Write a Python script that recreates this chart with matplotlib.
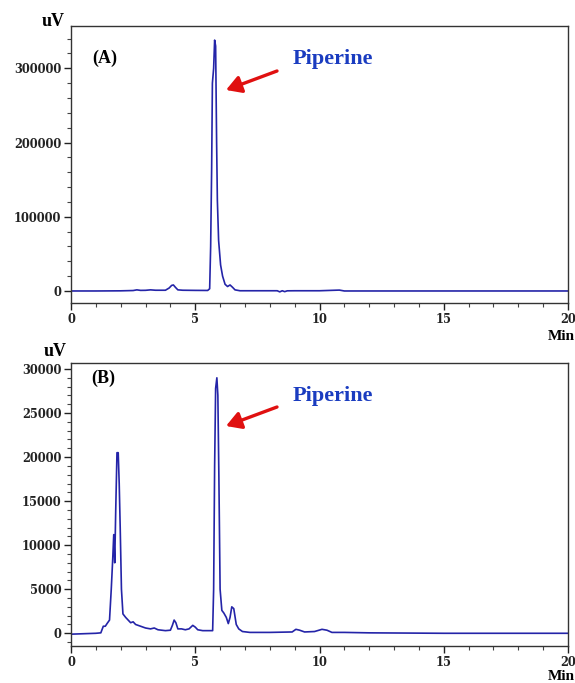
import matplotlib
matplotlib.use("Agg")
import matplotlib.pyplot as plt
from matplotlib.ticker import MultipleLocator

# ---- data ----
time_a = [0, 1.0, 2.0, 2.5, 2.65, 2.8, 3.0, 3.2, 3.4, 3.8, 3.95, 4.05, 4.12, 4.2, 4.3,
          4.5, 5.0, 5.5, 5.58, 5.62, 5.66, 5.69, 5.74, 5.78, 5.82, 5.86, 5.89, 5.94,
          6.02, 6.1, 6.2, 6.3, 6.4, 6.5, 6.6, 6.8, 7.5, 8.3, 8.4, 8.5, 8.6, 8.7, 9.0,
          10.0, 10.8, 11.0, 15.0, 20.0]
signal_a = [0, 0, 200, 600, 1500, 800, 900, 1500, 1000, 1000, 4000, 7500, 8100, 5000, 1500,
            1000, 800, 700, 3000, 60000, 165000, 280000, 300000, 338000, 330000, 200000,
            122000, 68000, 35000, 20000, 9000, 6000, 8100, 5000, 1500, 300, 300, 300, -1200,
            300, -900, 200, 300, 300, 1200, 0, 0, 0]

time_b = [0, 0.5, 1.0, 1.2, 1.3, 1.38, 1.45, 1.55, 1.62, 1.68, 1.72, 1.76, 1.8, 1.85, 1.9,
          1.94, 1.98, 2.03, 2.09, 2.2, 2.3, 2.4, 2.5, 2.6, 2.8, 3.0, 3.2, 3.35, 3.5, 3.8,
          4.0, 4.08, 4.15, 4.22, 4.3, 4.45, 4.6, 4.75, 4.9, 5.0, 5.1, 5.3, 5.7, 5.74,
          5.78, 5.82, 5.87, 5.91, 5.95, 6.0, 6.07, 6.15, 6.25, 6.33, 6.4, 6.47, 6.55,
          6.65, 6.75, 6.9, 7.2, 8.0, 8.9, 9.05, 9.2, 9.4, 9.8, 10.1, 10.3, 10.5, 11.0,
          12.0, 15.0, 20.0]
signal_b = [-100, -50, 0, 50, 800, 800, 1100, 1500, 5000, 8500, 11200, 8000, 14000, 20500,
            20500, 17000, 12000, 5000, 2200, 1800, 1500, 1200, 1300, 1000, 800, 600, 500,
            600, 400, 300, 350, 900, 1500, 1200, 500, 500, 400, 500, 900, 700, 400, 300,
            300, 5000, 19000, 27800, 29000, 27000, 18000, 5000, 2600, 2300, 1800, 1100,
            1800, 3000, 2800, 1000, 500, 200, 100, 100, 150, 450, 350, 150, 200, 450, 350,
            100, 100, 50, 0, 0]

panel_labels = ["(A)", "(B)"]
peak_label = "Piperine"
y_label = "uV"
x_label = "Min"
x_ticks = [0, 5, 10, 15, 20]

W, H = 575, 683
fig = plt.figure(figsize=(W / 100, H / 100), dpi=100)

def fx(x):
    return x / W

def fy(y):
    return 1 - y / H

serif = ["Liberation Serif", "DejaVu Serif"]
tickfont = {"family": "DejaVu Serif", "weight": "bold", "size": 8.3}
line_color = "#2424a8"

panels = [
    dict(time=time_a, sig=signal_a, box=(71, 26, 568, 303), ylim=(-16200, 357000),
         minor=20000, yticks=[0, 100000, 200000, 300000],
         uv=(53, 22), lab=(105, 58), pip=(333, 64), arrow=((277, 71), (226, 90)),
         minpos=(561, 336)),
    dict(time=time_b, sig=signal_b, box=(71, 363, 568, 646), ylim=(-1443, 30680),
         minor=1000, yticks=[0, 5000, 10000, 15000, 20000, 25000, 30000],
         uv=(55, 351), lab=(103, 378), pip=(333, 401), arrow=((277, 407), (226, 426)),
         minpos=(561, 676)),
]

for i, p in enumerate(panels):
    x0, y0, x1, y1 = p["box"]
    ax = fig.add_axes([fx(x0), fy(y1), fx(x1) - fx(x0), fy(y0) - fy(y1)])
    ax.plot(p["time"], p["sig"], color=line_color, lw=1.2)
    ax.set_xlim(0, 20)
    ax.set_ylim(*p["ylim"])
    ax.set_xticks(x_ticks)
    ax.set_yticks(p["yticks"])
    ax.xaxis.set_minor_locator(MultipleLocator(1))
    ax.yaxis.set_minor_locator(MultipleLocator(p["minor"]))
    ax.tick_params(which="major", direction="out", length=5, width=1, color="#222222", pad=2)
    ax.tick_params(which="minor", direction="out", length=3, width=0.8, color="#444444")
    for lbl in ax.get_xticklabels() + ax.get_yticklabels():
        lbl.set_fontfamily(tickfont["family"])
        lbl.set_fontweight("bold")
        lbl.set_fontsize(tickfont["size"])
        lbl.set_color("#222222")
    for s in ax.spines.values():
        s.set_color("#333333")
        s.set_linewidth(1.0)

    fig.text(fx(p["uv"][0]), fy(p["uv"][1]), y_label, family=serif, weight="bold",
             fontsize=13, ha="center", va="center")
    fig.text(fx(p["lab"][0]), fy(p["lab"][1]), panel_labels[i], family=serif,
             weight="bold", fontsize=13, ha="center", va="center")
    fig.text(fx(p["pip"][0]), fy(p["pip"][1]), peak_label, family=serif, weight="bold",
             fontsize=16, color="#1a3cc0", ha="center", va="baseline")
    (tx, ty), (hx, hy) = p["arrow"]
    fig.add_artist(matplotlib.patches.FancyArrowPatch(
        (fx(tx), fy(ty)), (fx(hx), fy(hy)), transform=fig.transFigure,
        arrowstyle="-|>,head_length=6,head_width=3.5", color="#e01010", lw=2.4,
        shrinkA=0, shrinkB=0, mutation_scale=1.5))
    fig.text(fx(p["minpos"][0]), fy(p["minpos"][1]), x_label, family=serif,
             weight="bold", fontsize=11, ha="center", va="center")

fig.savefig("out.png", dpi=100)
